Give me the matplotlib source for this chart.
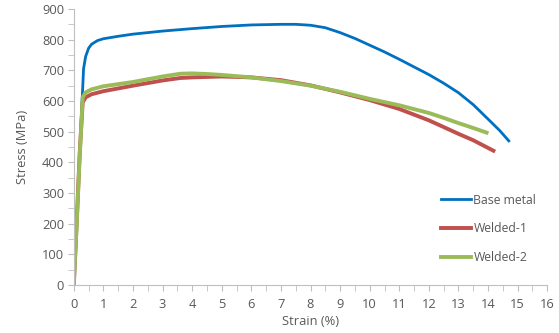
import numpy as np
import matplotlib.pyplot as plt
from matplotlib.ticker import MultipleLocator

# strain (%) / stress (MPa)
base_x = [0, 0.1, 0.2, 0.27, 0.3, 0.33, 0.4, 0.5, 0.6, 0.8, 1.0, 1.5, 2, 3, 4, 5, 6, 7, 7.5, 8, 8.5, 9,
          9.5, 10, 10.5, 11, 11.5, 12, 12.5, 13, 13.5, 14, 14.4, 14.7]
base_y = [0, 200, 420, 580, 640, 705, 745, 772, 785, 797, 803, 811, 818, 828, 836, 843, 848, 850, 850, 847,
          839, 823, 804, 782, 760, 736, 711, 686, 658, 627, 588, 541, 503, 470]

w1_x = [0, 0.1, 0.2, 0.3, 0.4, 0.6, 1, 1.5, 2, 3, 3.6, 4, 5, 6, 7, 8, 9, 10, 11, 12, 12.5, 13, 13.5, 14.18]
w1_y = [0, 210, 430, 595, 612, 622, 632, 641, 650, 667, 675, 677, 680, 677, 668, 651, 628, 603, 574, 537,
        515, 493, 472, 438]

w2_x = [0, 0.1, 0.2, 0.3, 0.4, 0.6, 1, 1.5, 2, 3, 3.6, 4, 4.5, 5, 6, 7, 8, 9, 10, 11, 12, 12.5, 13, 13.5, 13.95]
w2_y = [0, 200, 420, 612, 628, 638, 648, 655, 662, 680, 689, 690, 688, 685, 677, 665, 650, 630, 607, 586,
        561, 545, 528, 512, 497]

labels = ['Base metal', 'Welded-1', 'Welded-2']
colors = ['#0070C0', '#C0504D', '#9BBB59']

plt.rcParams['font.family'] = ['Open Sans', 'DejaVu Sans']
gray = '#595959'

fig = plt.figure(figsize=(5.59, 3.33), dpi=100)
ax = fig.add_axes([0.132, 0.144, 0.847, 0.829])

ax.plot(base_x, base_y, color=colors[0], lw=2, label=labels[0], solid_joinstyle='round')
ax.plot(w1_x, w1_y, color=colors[1], lw=2.8, label=labels[1], solid_joinstyle='round')
ax.plot(w2_x, w2_y, color=colors[2], lw=2.8, label=labels[2], solid_joinstyle='round')

ax.set_xlim(0, 16)
ax.set_ylim(0, 900)
ax.xaxis.set_major_locator(MultipleLocator(1))
ax.xaxis.set_minor_locator(MultipleLocator(0.5))
ax.yaxis.set_major_locator(MultipleLocator(100))
ax.yaxis.set_minor_locator(MultipleLocator(50))

for s in ['top', 'right']:
    ax.spines[s].set_visible(False)
for s in ['left', 'bottom']:
    ax.spines[s].set_color('#BFBFBF')
ax.tick_params(which='both', color='#BFBFBF', length=4, labelsize=9.3, labelcolor=gray)
ax.tick_params(axis='x', pad=5)
ax.tick_params(axis='y', pad=3)

ax.set_xlabel('Strain (%)', fontsize=9.3, color=gray, labelpad=3)
ax.set_ylabel('Stress (MPa)', fontsize=9.3, color=gray, labelpad=9)

ax.legend(loc='lower right', bbox_to_anchor=(1.0, 0.035), frameon=False, fontsize=8.8,
          labelcolor=gray, handlelength=2.45, handletextpad=0.2, labelspacing=1.3)

plt.savefig('out.png', dpi=100)
